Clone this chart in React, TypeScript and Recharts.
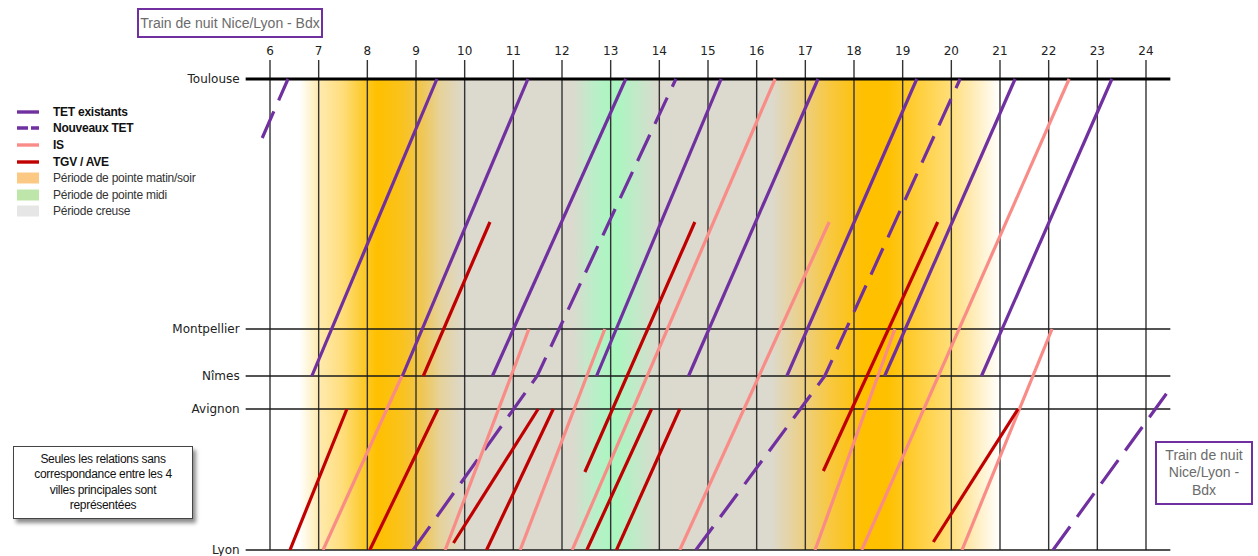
import React from 'react';
import { LineChart, Line, XAxis, YAxis, ReferenceLine, ReferenceArea, Legend } from 'recharts';

// gares (position verticale, Toulouse en haut)
const stationNames = ['Toulouse', 'Montpellier', 'Nîmes', 'Avignon', 'Lyon'];
const stationPos = [0, 250, 297, 330, 471];
const [TLS, MPL, NIM, AVI, LYS] = stationPos;

const hourTicks = [6, 7, 8, 9, 10, 11, 12, 13, 14, 15, 16, 17, 18, 19, 20, 21, 22, 23, 24];

// chaque sillon : [heure, position]
const tetExistants = [
  [[6.86, NIM], [9.43, TLS]],
  [[8.72, NIM], [11.3, TLS]],
  [[10.57, NIM], [13.31, TLS]],
  [[12.71, NIM], [15.27, TLS]],
  [[14.6, NIM], [17.26, TLS]],
  [[16.62, NIM], [19.29, TLS]],
  [[18.63, NIM], [21.31, TLS]],
  [[20.62, NIM], [23.3, TLS]],
];

const nouveauxTet = [
  [[5.84, 59], [6.37, TLS]],
  [[8.94, LYS], [11.49, NIM], [14.34, TLS]],
  [[14.75, LYS], [17.4, NIM], [20.18, TLS]],
  [[22.09, LYS], [24.55, 306]],
];

const isTrains = [
  [[7.09, LYS], [8.71, NIM]],
  [[9.6, LYS], [11.32, MPL]],
  [[11.14, LYS], [12.88, MPL]],
  [[12.21, LYS], [16.38, TLS]],
  [[14.42, LYS], [17.49, 143]],
  [[17.2, LYS], [18.84, MPL]],
  [[18.16, LYS], [22.42, TLS]],
  [[20.22, LYS], [22.07, MPL]],
];

const tgvAve = [
  [[6.41, LYS], [7.58, AVI]],
  [[8.05, LYS], [9.45, AVI]],
  [[9.15, NIM], [10.52, 143]],
  [[9.77, 464], [11.51, AVI]],
  [[10.45, LYS], [11.82, AVI]],
  [[12.47, 393], [14.73, 143]],
  [[12.51, LYS], [13.84, AVI]],
  [[13.12, LYS], [14.42, AVI]],
  [[17.37, 392], [19.72, 143]],
  [[19.63, 463], [21.37, AVI]],
];

// périodes (pointe / creuse) : [heure, couleur]
const bandStart = 6.6;
const bandEnd = 21.0;
const bandStops: [number, string][] = [
  [6.6, '#FFFFFF'],
  [7.0, '#FFEBB0'],
  [7.5, '#FFDD7A'],
  [7.9, '#FCCB30'],
  [8.2, '#FFC000'],
  [8.7, '#FAC21C'],
  [9.1, '#F0C650'],
  [9.5, '#E6D29A'],
  [10.0, '#DCD9CE'],
  [12.2, '#DCD9CE'],
  [12.7, '#B8F0C8'],
  [13.1, '#A9F7BF'],
  [13.5, '#C0EAC8'],
  [14.0, '#DCD9CE'],
  [16.3, '#DCD9CE'],
  [16.9, '#EBD08A'],
  [17.5, '#F8C840'],
  [18.2, '#FFC000'],
  [18.7, '#FFC000'],
  [19.3, '#FFCE3A'],
  [19.9, '#FFDC70'],
  [20.4, '#FFEAB0'],
  [21.0, '#FFFFFF'],
];

const PURPLE = '#7030A0';
const PINK = '#F98C87';
const RED = '#C00000';

const legendItems = [
  { label: 'TET existants', kind: 'line', color: PURPLE },
  { label: 'Nouveaux TET', kind: 'dash', color: PURPLE },
  { label: 'IS', kind: 'line', color: PINK },
  { label: 'TGV / AVE', kind: 'line', color: RED },
  { label: 'Période de pointe matin/soir', kind: 'box', color: '#FCC985' },
  { label: 'Période de pointe midi', kind: 'box', color: '#BEE6AA' },
  { label: 'Période creuse', kind: 'box', color: '#E6E6E6' },
];

const toPoints = (train: number[][]) => train.map(([t, d]) => ({ t, d }));

const renderLegend = () => (
  <div style={{ paddingLeft: 17 }}>
    {legendItems.map((item) => (
      <div key={item.label} style={{ display: 'flex', alignItems: 'center', height: 16.6 }}>
        <svg width={22} height={16} style={{ flex: 'none' }}>
          {item.kind === 'box' ? (
            <rect x={0} y={2.5} width={22} height={11} fill={item.color} />
          ) : (
            <line
              x1={0}
              x2={22}
              y1={8}
              y2={8}
              stroke={item.color}
              strokeWidth={3.4}
              strokeDasharray={item.kind === 'dash' ? '11 3' : undefined}
            />
          )}
        </svg>
        <span
          style={{
            marginLeft: 14,
            fontFamily: '"Liberation Sans", Arial, sans-serif',
            fontSize: 12,
            letterSpacing: -0.25,
            fontWeight: item.kind === 'box' ? 400 : 700,
            color: item.kind === 'box' ? '#333' : '#111',
            whiteSpace: 'nowrap',
          }}
        >
          {item.label}
        </span>
      </div>
    ))}
  </div>
);

const trainLine = (train: number[][], key: string, color: string, dashed = false) => (
  <Line
    key={key}
    data={toPoints(train)}
    dataKey="d"
    type="linear"
    stroke={color}
    strokeWidth={3.2}
    strokeDasharray={dashed ? '29 12' : undefined}
    dot={false}
    activeDot={false}
    legendType="none"
    isAnimationActive={false}
  />
);

const axisFont = { fontFamily: '"DejaVu Sans", Verdana, sans-serif', fontSize: 12, fill: '#222' };

export default function App() {
  return (
    <div style={{ position: 'absolute', left: 0, top: 0, width: 1258, height: 556, background: '#fff' }}>
      <LineChart width={1258} height={556} margin={{ top: 40, right: 87.67, bottom: 6, left: 165.67 }}>
        <defs>
          <linearGradient id="periodes" x1="0" y1="0" x2="1" y2="0">
            {bandStops.map(([h, c]) => (
              <stop key={h} offset={(h - bandStart) / (bandEnd - bandStart)} stopColor={c} />
            ))}
          </linearGradient>
        </defs>
        <XAxis
          dataKey="t"
          type="number"
          orientation="top"
          domain={[5.5, 24.5]}
          ticks={hourTicks}
          interval={0}
          allowDataOverflow
          axisLine={false}
          tickLine={false}
          tickSize={0}
          tickMargin={5}
          height={20}
          tick={axisFont}
        />
        <YAxis
          type="number"
          domain={[-19, 471]}
          reversed
          ticks={stationPos}
          interval={0}
          allowDataOverflow
          tickFormatter={(v: number) => stationNames[stationPos.indexOf(v)]}
          axisLine={false}
          tickLine={false}
          tickSize={0}
          tickMargin={6}
          width={80}
          tick={axisFont}
        />
        <ReferenceArea
          x1={bandStart}
          x2={bandEnd}
          y1={TLS}
          y2={LYS}
          fill="url(#periodes)"
          fillOpacity={1}
          stroke="none"
          zIndex={50}
        />
        {hourTicks.map((h) => (
          <ReferenceLine key={'h' + h} x={h} stroke="#333" strokeWidth={1.4} zIndex={60} />
        ))}
        {stationPos.map((p) => (
          <ReferenceLine
            key={'s' + p}
            y={p}
            stroke={p === TLS ? '#000' : '#1a1a1a'}
            strokeWidth={p === TLS ? 3 : 1.4}
            zIndex={60}
          />
        ))}
        {tetExistants.map((t, i) => trainLine(t, 'tet' + i, PURPLE))}
        {nouveauxTet.map((t, i) => trainLine(t, 'ntet' + i, PURPLE, true))}
        {isTrains.map((t, i) => trainLine(t, 'is' + i, PINK))}
        {tgvAve.map((t, i) => trainLine(t, 'tgv' + i, RED))}
        <Legend
          layout="vertical"
          align="center"
          verticalAlign="middle"
          content={renderLegend}
          wrapperStyle={{ left: 0, top: 103.5, width: 240 }}
        />
      </LineChart>

      <div
        style={{
          position: 'absolute',
          left: 137,
          top: 8,
          width: 186,
          height: 30,
          boxSizing: 'border-box',
          border: `2.5px solid ${PURPLE}`,
          display: 'flex',
          alignItems: 'center',
          justifyContent: 'center',
          fontFamily: '"Liberation Sans", Arial, sans-serif',
          fontSize: 14,
          color: '#6b6b6b',
          whiteSpace: 'nowrap',
        }}
      >
        Train de nuit Nice/Lyon - Bdx
      </div>

      <div
        style={{
          position: 'absolute',
          left: 1155,
          top: 441,
          width: 98,
          height: 64,
          boxSizing: 'border-box',
          border: `2.5px solid ${PURPLE}`,
          display: 'flex',
          flexDirection: 'column',
          alignItems: 'center',
          justifyContent: 'center',
          fontFamily: '"Liberation Sans", Arial, sans-serif',
          fontSize: 14,
          lineHeight: '17.5px',
          color: '#6b6b6b',
          textAlign: 'center',
          background: '#fff',
        }}
      >
        <div>Train de nuit</div>
        <div>Nice/Lyon -</div>
        <div>Bdx</div>
      </div>

      <div
        style={{
          position: 'absolute',
          left: 13,
          top: 446,
          width: 180,
          height: 73,
          boxSizing: 'border-box',
          border: '1px solid #444',
          boxShadow: '3px 4px 4px rgba(0,0,0,0.45)',
          background: '#fff',
          display: 'flex',
          flexDirection: 'column',
          alignItems: 'center',
          justifyContent: 'center',
          fontFamily: '"Liberation Sans", Arial, sans-serif',
          fontSize: 12,
          letterSpacing: -0.3,
          lineHeight: '15.3px',
          color: '#111',
          textAlign: 'center',
        }}
      >
        <div>Seules les relations sans</div>
        <div>correspondance entre les 4</div>
        <div>villes principales sont</div>
        <div>représentées</div>
      </div>
    </div>
  );
}
